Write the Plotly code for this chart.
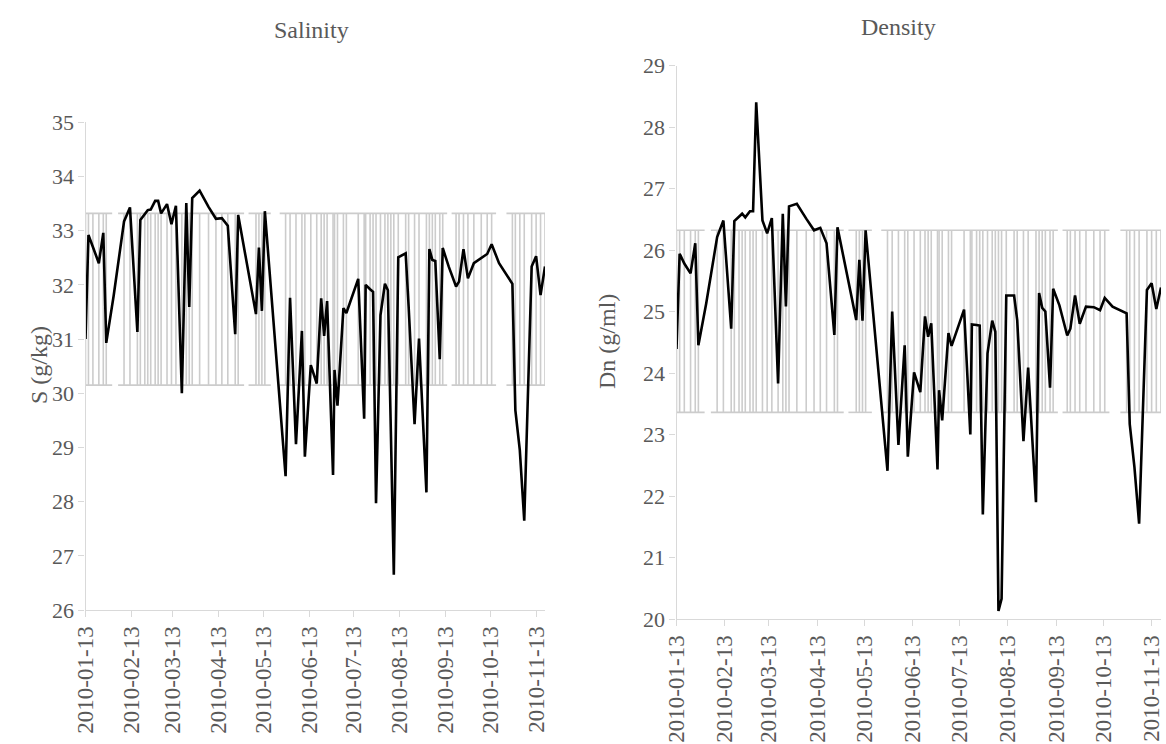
import plotly.graph_objects as go

# ---------------- data ----------------
dates = [
    "2010-01-13", "2010-01-15", "2010-01-18", "2010-01-22", "2010-01-25", "2010-01-27",
    "2010-02-01", "2010-02-08", "2010-02-12", "2010-02-17", "2010-02-19", "2010-02-22",
    "2010-02-24", "2010-02-26", "2010-03-01", "2010-03-03", "2010-03-05", "2010-03-09",
    "2010-03-12", "2010-03-15", "2010-03-19", "2010-03-22", "2010-03-24", "2010-03-26",
    "2010-03-31", "2010-04-06", "2010-04-11", "2010-04-15", "2010-04-19", "2010-04-24",
    "2010-04-26", "2010-05-08", "2010-05-10", "2010-05-12", "2010-05-14", "2010-05-28",
    "2010-05-31", "2010-06-04", "2010-06-08", "2010-06-10", "2010-06-14", "2010-06-18",
    "2010-06-21", "2010-06-23", "2010-06-25", "2010-06-29", "2010-06-30", "2010-07-02",
    "2010-07-06", "2010-07-08", "2010-07-16", "2010-07-20", "2010-07-21", "2010-07-24",
    "2010-07-26", "2010-07-28", "2010-07-31", "2010-08-03", "2010-08-05", "2010-08-07",
    "2010-08-09", "2010-08-12", "2010-08-17", "2010-08-19", "2010-08-23", "2010-08-26",
    "2010-08-31", "2010-09-02", "2010-09-04", "2010-09-06", "2010-09-09", "2010-09-11",
    "2010-09-15", "2010-09-20", "2010-09-22", "2010-09-25", "2010-09-28", "2010-10-02",
    "2010-10-07", "2010-10-11", "2010-10-14", "2010-10-19", "2010-10-28", "2010-10-30",
    "2010-11-02", "2010-11-05", "2010-11-10", "2010-11-13", "2010-11-16", "2010-11-19",
]

salinity = [
    31.00, 32.92, 32.70, 32.40, 32.96, 30.93,
    31.80, 33.17, 33.43, 31.13, 33.20, 33.32,
    33.38, 33.39, 33.55, 33.55, 33.32, 33.49,
    33.12, 33.46, 30.00, 33.51, 31.59, 33.60,
    33.74, 33.44, 33.22, 33.23, 33.09, 31.09,
    33.29, 31.46, 32.69, 31.52, 33.36, 28.47,
    31.76, 29.06, 31.15, 28.83, 30.52, 30.18,
    31.75, 31.06, 31.70, 28.49, 30.43, 29.77,
    31.57, 31.48, 32.11, 29.53, 32.00, 31.92,
    31.87, 27.97, 31.44, 32.02, 31.90, 29.30,
    26.65, 32.51, 32.58, 31.60, 29.43, 31.01,
    28.17, 32.66, 32.46, 32.44, 30.63, 32.68,
    32.34, 31.97, 32.06, 32.66, 32.12, 32.40,
    32.49, 32.57, 32.75, 32.40, 32.02, 29.69,
    28.95, 27.65, 32.34, 32.53, 31.81, 32.34,
]

density = [
    24.39, 25.94, 25.78, 25.62, 26.11, 24.45,
    25.13, 26.21, 26.48, 24.72, 26.47, 26.55,
    26.59, 26.53, 26.63, 26.63, 28.40, 26.48,
    26.27, 26.52, 23.83, 26.59, 25.08, 26.71,
    26.75, 26.51, 26.32, 26.36, 26.11, 24.62,
    26.37, 24.86, 25.84, 24.85, 26.32, 22.41,
    25.00, 22.83, 24.45, 22.64, 24.01, 23.69,
    24.92, 24.59, 24.81, 22.43, 23.72, 23.23,
    24.65, 24.44, 25.03, 23.00, 24.79, 24.78,
    24.77, 21.70, 24.32, 24.85, 24.67, 20.13,
    20.33, 25.26, 25.26, 24.86, 22.89, 24.09,
    21.90, 25.30, 25.06, 25.00, 23.76, 25.37,
    25.10, 24.61, 24.72, 25.26, 24.80, 25.08,
    25.07, 25.02, 25.22, 25.08, 24.97, 23.17,
    22.47, 21.55, 25.35, 25.46, 25.04, 25.39,
]

# reference band (lower, upper) for each variable
salinity_band = [30.15, 33.32]
density_band = [23.36, 26.32]

# periods where the reference band is missing
band_gaps = [
    ("2010-01-31", "2010-02-04"),
    ("2010-04-30", "2010-05-03"),
    ("2010-05-18", "2010-05-24"),
    ("2010-09-14", "2010-09-17"),
    ("2010-10-17", "2010-10-24"),
]

tick_labels = [
    "2010-01-13", "2010-02-13", "2010-03-13", "2010-04-13", "2010-05-13", "2010-06-13",
    "2010-07-13", "2010-08-13", "2010-09-13", "2010-10-13", "2010-11-13",
]

x_start, x_end = dates[0], dates[-1]

# ---------------- helpers ----------------
def in_gap(d):
    return any(a <= d <= b for a, b in band_gaps)


def band_traces(band, xa, ya):
    lo, hi = band
    vx, vy = [], []
    for d in dates:
        if not in_gap(d):
            vx += [d, d, None]
            vy += [lo, hi, None]
    hx, hy = [], []
    seg_start = x_start
    for a, b in band_gaps:
        for level in (hi, lo):
            hx += [seg_start, a, None]
            hy += [level, level, None]
        seg_start = b
    for level in (hi, lo):
        hx += [seg_start, x_end, None]
        hy += [level, level, None]
    grey = "#cccccc"
    return [
        go.Scatter(x=vx, y=vy, mode="lines", line=dict(color=grey, width=1.6),
                   xaxis=xa, yaxis=ya, hoverinfo="skip", showlegend=False),
        go.Scatter(x=hx, y=hy, mode="lines", line=dict(color=grey, width=1.6),
                   xaxis=xa, yaxis=ya, hoverinfo="skip", showlegend=False),
    ]


fig = go.Figure()
for t in band_traces(salinity_band, "x", "y"):
    fig.add_trace(t)
for t in band_traces(density_band, "x2", "y2"):
    fig.add_trace(t)

fig.add_trace(go.Scatter(x=dates, y=salinity, mode="lines",
                         line=dict(color="black", width=2.6),
                         xaxis="x", yaxis="y", name="Salinity", showlegend=False))
fig.add_trace(go.Scatter(x=dates, y=density, mode="lines",
                         line=dict(color="black", width=2.6),
                         xaxis="x2", yaxis="y2", name="Density", showlegend=False))

W, H = 1166, 744
FONT = "Liberation Serif"
TXT = "#595959"
AX = "#d9d9d9"

common_x = dict(
    type="date", range=[x_start, x_end], tickmode="array",
    tickvals=tick_labels, ticktext=tick_labels, tickangle=-90,
    ticks="outside", ticklen=6, tickcolor=AX, tickwidth=1.3,
    showline=True, linecolor=AX, linewidth=1.3, showgrid=False, zeroline=False,
    tickfont=dict(family=FONT, size=23, color=TXT), automargin=False,
)
common_y = dict(
    dtick=1, ticks="outside", ticklen=6, tickcolor=AX, tickwidth=1.3,
    showline=True, linecolor=AX, linewidth=1.3, showgrid=False, zeroline=False,
    tickfont=dict(family=FONT, size=22, color=TXT), automargin=False,
)

fig.update_layout(
    width=W, height=H, autosize=False,
    margin=dict(l=0, r=0, t=0, b=0, autoexpand=False),
    paper_bgcolor="white", plot_bgcolor="white",
    xaxis=dict(common_x, domain=[85.5 / W, 545 / W], anchor="y"),
    yaxis=dict(common_y, range=[26, 35], domain=[1 - 610 / H, 1 - 122.3 / H], anchor="x"),
    xaxis2=dict(common_x, domain=[676.5 / W, 1161 / W], anchor="y2"),
    yaxis2=dict(common_y, range=[20, 29], domain=[1 - 619 / H, 1 - 65.5 / H], anchor="x2"),
    annotations=[
        dict(text="Salinity", x=311 / W, y=1 - 30 / H, xref="paper", yref="paper",
             xanchor="center", yanchor="middle",
             showarrow=False, font=dict(family=FONT, size=24, color=TXT)),
        dict(text="Density", x=898 / W, y=1 - 27 / H, xref="paper", yref="paper",
             xanchor="center", yanchor="middle",
             showarrow=False, font=dict(family=FONT, size=24, color=TXT)),
        dict(text="S (g/kg)", x=39 / W, y=1 - 365 / H, xref="paper", yref="paper",
             xanchor="center", yanchor="middle",
             textangle=-90, showarrow=False, font=dict(family=FONT, size=24, color=TXT)),
        dict(text="Dn (g/ml)", x=607 / W, y=1 - 342 / H, xref="paper", yref="paper",
             xanchor="center", yanchor="middle",
             textangle=-90, showarrow=False, font=dict(family=FONT, size=24, color=TXT)),
    ],
)

fig.write_html("out.html")
